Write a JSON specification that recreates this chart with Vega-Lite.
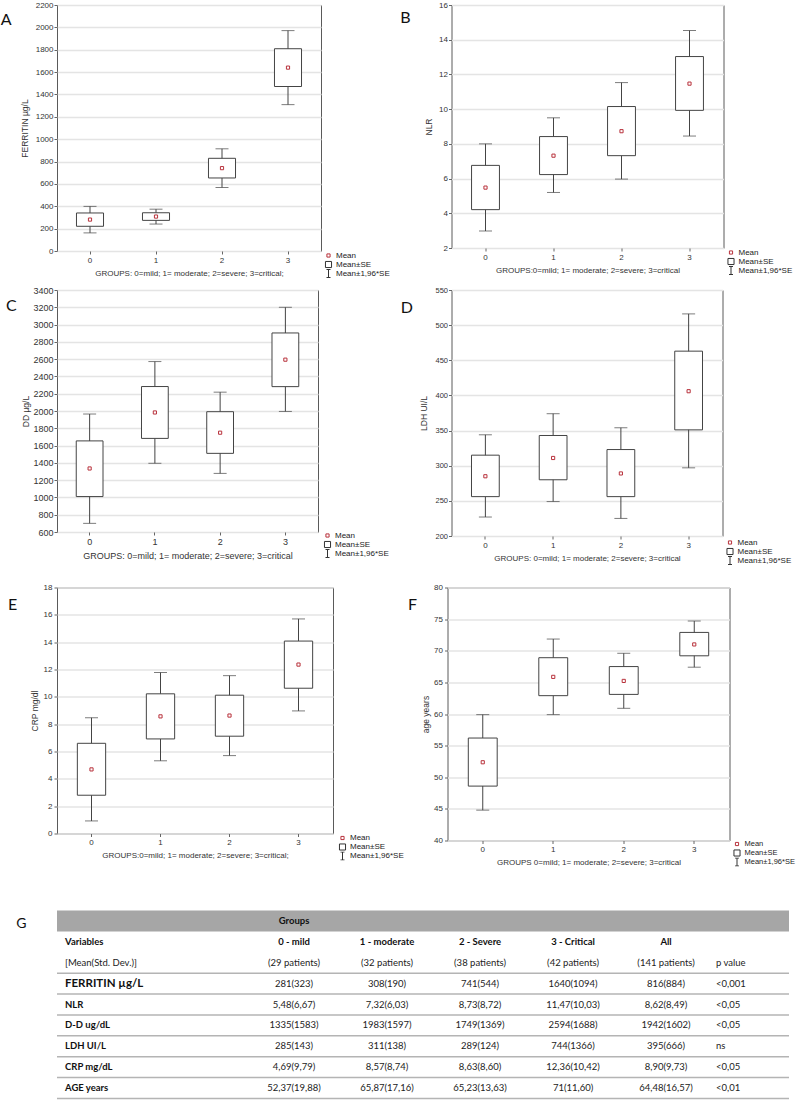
{
"$schema": "https://vega.github.io/schema/vega-lite/v6.json",
"background": "white",
"padding": {"left": 0, "top": 0, "right": 0, "bottom": 0},
"config": {
  "view": {"stroke": "#5a5a5a", "strokeWidth": 1},
  "font": "Liberation Sans",
  "axis": {"labelFont": "Liberation Sans", "labelFontSize": 8, "labelColor": "#333", "titleFont": "Liberation Sans", "titleFontSize": 8.5, "titleFontWeight": "normal", "titleColor": "#333", "tickColor": "#666", "tickSize": 3, "domain": false, "labelPadding": 1},
  "axisX": {"grid": false, "labelAngle": 0, "labelPadding": 2, "titlePadding": 5, "titleFontSize": 8},
  "axisY": {"grid": true, "gridColor": "#e4e4e4", "gridWidth": 1.5},
  "legend": {"labelFont": "Liberation Sans", "labelFontSize": 8, "labelColor": "#222", "rowPadding": 0, "clipHeight": 9, "symbolStrokeWidth": 1, "labelOffset": 3, "padding": 0, "orient": "none"},
  "title": {"font": "Lato", "fontSize": 16, "fontWeight": "normal", "color": "#111", "orient": "left", "anchor": "end", "angle": 0, "align": "right", "baseline": "top", "frame": "group"}
},
"datasets": {
  "ferritin": [
    {"g": "0", "lo": 162, "sel": 221, "mean": 281, "seh": 340, "hi": 399, "stat": "Mean"},
    {"g": "1", "lo": 241, "sel": 274, "mean": 308, "seh": 342, "hi": 374, "stat": "Mean"},
    {"g": "2", "lo": 568, "sel": 653, "mean": 741, "seh": 829, "hi": 914, "stat": "Mean"},
    {"g": "3", "lo": 1309, "sel": 1471, "mean": 1640, "seh": 1809, "hi": 1971, "stat": "Mean"}
  ],
  "nlr": [
    {"g": "0", "lo": 2.98, "sel": 4.21, "mean": 5.48, "seh": 6.76, "hi": 8.0, "stat": "Mean"},
    {"g": "1", "lo": 5.2, "sel": 6.23, "mean": 7.32, "seh": 8.42, "hi": 9.5, "stat": "Mean"},
    {"g": "2", "lo": 5.97, "sel": 7.32, "mean": 8.73, "seh": 10.15, "hi": 11.53, "stat": "Mean"},
    {"g": "3", "lo": 8.45, "sel": 9.93, "mean": 11.47, "seh": 13.03, "hi": 14.53, "stat": "Mean"}
  ],
  "dd": [
    {"g": "0", "lo": 700, "sel": 1010, "mean": 1335, "seh": 1654, "hi": 1965, "stat": "Mean"},
    {"g": "1", "lo": 1395, "sel": 1683, "mean": 1983, "seh": 2283, "hi": 2572, "stat": "Mean"},
    {"g": "2", "lo": 1278, "sel": 1510, "mean": 1749, "seh": 1992, "hi": 2218, "stat": "Mean"},
    {"g": "3", "lo": 1995, "sel": 2282, "mean": 2594, "seh": 2903, "hi": 3200, "stat": "Mean"}
  ],
  "ldh": [
    {"g": "0", "lo": 227, "sel": 256, "mean": 285, "seh": 315, "hi": 344, "stat": "Mean"},
    {"g": "1", "lo": 249, "sel": 280, "mean": 311, "seh": 343, "hi": 374, "stat": "Mean"},
    {"g": "2", "lo": 225, "sel": 256, "mean": 289, "seh": 323, "hi": 354, "stat": "Mean"},
    {"g": "3", "lo": 297, "sel": 351, "mean": 406, "seh": 463, "hi": 516, "stat": "Mean"}
  ],
  "crp": [
    {"g": "0", "lo": 0.92, "sel": 2.8, "mean": 4.69, "seh": 6.6, "hi": 8.47, "stat": "Mean"},
    {"g": "1", "lo": 5.32, "sel": 6.92, "mean": 8.57, "seh": 10.22, "hi": 11.78, "stat": "Mean"},
    {"g": "2", "lo": 5.7, "sel": 7.12, "mean": 8.63, "seh": 10.12, "hi": 11.55, "stat": "Mean"},
    {"g": "3", "lo": 8.97, "sel": 10.63, "mean": 12.36, "seh": 14.08, "hi": 15.7, "stat": "Mean"}
  ],
  "age": [
    {"g": "0", "lo": 44.8, "sel": 48.6, "mean": 52.37, "seh": 56.2, "hi": 59.9, "stat": "Mean"},
    {"g": "1", "lo": 59.9, "sel": 62.9, "mean": 65.87, "seh": 68.9, "hi": 71.85, "stat": "Mean"},
    {"g": "2", "lo": 60.9, "sel": 63.1, "mean": 65.23, "seh": 67.5, "hi": 69.6, "stat": "Mean"},
    {"g": "3", "lo": 67.4, "sel": 69.2, "mean": 71.0, "seh": 72.9, "hi": 74.7, "stat": "Mean"}
  ],
  "tbl": [
    {"row": "hdr", "col": "c0", "text": "Groups"},
    {"row": "h1", "col": "var", "text": "Variables"},
    {"row": "h1", "col": "c0", "text": "0 - mild"},
    {"row": "h1", "col": "c1", "text": "1 - moderate"},
    {"row": "h1", "col": "c2", "text": "2 - Severe"},
    {"row": "h1", "col": "c3", "text": "3 - Critical"},
    {"row": "h1", "col": "all", "text": "All"},
    {"row": "h2", "col": "var", "text": "[Mean(Std. Dev.)]"},
    {"row": "h2", "col": "c0", "text": "(29 patients)"},
    {"row": "h2", "col": "c1", "text": "(32 patients)"},
    {"row": "h2", "col": "c2", "text": "(38 patients)"},
    {"row": "h2", "col": "c3", "text": "(42 patients)"},
    {"row": "h2", "col": "all", "text": "(141 patients)"},
    {"row": "h2", "col": "p", "text": "p value"},
    {"row": "fer", "col": "var", "text": "FERRITIN  µg/L"},
    {"row": "fer", "col": "c0", "text": "281(323)"},
    {"row": "fer", "col": "c1", "text": "308(190)"},
    {"row": "fer", "col": "c2", "text": "741(544)"},
    {"row": "fer", "col": "c3", "text": "1640(1094)"},
    {"row": "fer", "col": "all", "text": "816(884)"},
    {"row": "fer", "col": "p", "text": "<0,001"},
    {"row": "nlr", "col": "var", "text": "NLR"},
    {"row": "nlr", "col": "c0", "text": "5,48(6,67)"},
    {"row": "nlr", "col": "c1", "text": "7,32(6,03)"},
    {"row": "nlr", "col": "c2", "text": "8,73(8,72)"},
    {"row": "nlr", "col": "c3", "text": "11,47(10,03)"},
    {"row": "nlr", "col": "all", "text": "8,62(8,49)"},
    {"row": "nlr", "col": "p", "text": "<0,05"},
    {"row": "dd", "col": "var", "text": "D-D  ug/dL"},
    {"row": "dd", "col": "c0", "text": "1335(1583)"},
    {"row": "dd", "col": "c1", "text": "1983(1597)"},
    {"row": "dd", "col": "c2", "text": "1749(1369)"},
    {"row": "dd", "col": "c3", "text": "2594(1688)"},
    {"row": "dd", "col": "all", "text": "1942(1602)"},
    {"row": "dd", "col": "p", "text": "<0,05"},
    {"row": "ldh", "col": "var", "text": "LDH UI/L"},
    {"row": "ldh", "col": "c0", "text": "285(143)"},
    {"row": "ldh", "col": "c1", "text": "311(138)"},
    {"row": "ldh", "col": "c2", "text": "289(124)"},
    {"row": "ldh", "col": "c3", "text": "744(1366)"},
    {"row": "ldh", "col": "all", "text": "395(666)"},
    {"row": "ldh", "col": "p", "text": "ns"},
    {"row": "crp", "col": "var", "text": "CRP  mg/dL"},
    {"row": "crp", "col": "c0", "text": "4,69(9,79)"},
    {"row": "crp", "col": "c1", "text": "8,57(8,74)"},
    {"row": "crp", "col": "c2", "text": "8,63(8,60)"},
    {"row": "crp", "col": "c3", "text": "12,36(10,42)"},
    {"row": "crp", "col": "all", "text": "8,90(9,73)"},
    {"row": "crp", "col": "p", "text": "<0,05"},
    {"row": "age", "col": "var", "text": "AGE years"},
    {"row": "age", "col": "c0", "text": "52,37(19,88)"},
    {"row": "age", "col": "c1", "text": "65,87(17,16)"},
    {"row": "age", "col": "c2", "text": "65,23(13,63)"},
    {"row": "age", "col": "c3", "text": "71(11,60)"},
    {"row": "age", "col": "all", "text": "64,48(16,57)"},
    {"row": "age", "col": "p", "text": "<0,01"}
  ]
},
"resolve": {"scale": {"color": "independent", "shape": "independent", "size": "independent"}, "legend": {"color": "independent", "shape": "independent", "size": "independent"}},
"spacing": 16.5,
"vconcat": [
 {"spacing": 6,
  "resolve": {"scale": {"color": "independent", "shape": "independent", "size": "independent"}, "legend": {"color": "independent", "shape": "independent", "size": "independent"}},
  "vconcat": [
  {"spacing": 8.5,
   "resolve": {"scale": {"color": "independent", "shape": "independent", "size": "independent"}, "legend": {"color": "independent", "shape": "independent", "size": "independent"}},
   "hconcat": [
   {"width": 264, "height": 246, "data": {"name": "ferritin"},
    "title": {"text": ["", "A"], "lineHeight": 7, "offset": -2},
    "encoding": {"x": {"field": "g", "type": "ordinal", "scale": {"paddingInner": 0, "paddingOuter": 0}, "axis": {"title": "GROUPS: 0=mild; 1= moderate;  2=severe;  3=critical;"}}},
    "layer": [
     {"mark": {"type": "rule", "color": "#444"}, "encoding": {"y": {"field": "lo", "type": "quantitative", "scale": {"domain": [0, 2200], "nice": false, "zero": false}, "axis": {"title": "FERRITIN µg/L", "values": [0,200,400,600,800,1000,1200,1400,1600,1800,2000,2200], "format": "d", "titlePadding": 5.5, "minExtent": 22, "maxExtent": 22}}, "y2": {"field": "hi"}}},
     {"mark": {"type": "bar", "fill": "#ffffff", "stroke": "#444", "strokeWidth": 1, "width": {"band": 0.41}}, "encoding": {"y": {"field": "sel", "type": "quantitative", "scale": {"domain": [0, 2200], "nice": false, "zero": false}, "axis": {"title": "FERRITIN µg/L", "values": [0,200,400,600,800,1000,1200,1400,1600,1800,2000,2200], "format": "d", "titlePadding": 5.5, "minExtent": 22, "maxExtent": 22}}, "y2": {"field": "seh"}}},
     {"mark": {"type": "tick", "size": 13, "thickness": 1, "color": "#444"}, "encoding": {"y": {"field": "lo", "type": "quantitative", "scale": {"domain": [0, 2200], "nice": false, "zero": false}, "axis": {"title": "FERRITIN µg/L", "values": [0,200,400,600,800,1000,1200,1400,1600,1800,2000,2200], "format": "d", "titlePadding": 5.5, "minExtent": 22, "maxExtent": 22}}}},
     {"mark": {"type": "tick", "size": 13, "thickness": 1, "color": "#444"}, "encoding": {"y": {"field": "hi", "type": "quantitative", "scale": {"domain": [0, 2200], "nice": false, "zero": false}, "axis": {"title": "FERRITIN µg/L", "values": [0,200,400,600,800,1000,1200,1400,1600,1800,2000,2200], "format": "d", "titlePadding": 5.5, "minExtent": 22, "maxExtent": 22}}}},
     {"mark": {"type": "point", "filled": false, "strokeWidth": 1, "opacity": 1}, "encoding": {
       "y": {"field": "mean", "type": "quantitative", "scale": {"domain": [0, 2200], "nice": false, "zero": false}, "axis": {"title": "FERRITIN µg/L", "values": [0,200,400,600,800,1000,1200,1400,1600,1800,2000,2200], "format": "d", "titlePadding": 5.5, "minExtent": 22, "maxExtent": 22}},
       "shape": {"field": "stat", "type": "nominal", "scale": {"domain": ["Mean", "Mean±SE", "Mean±1,96*SE"], "range": ["square", "square", "M-0.5,-1H0.5M0,-1V1M-0.5,1H0.5"]}, "legend": {"title": null, "legendX": 267, "legendY": 246}},
       "color": {"field": "stat", "type": "nominal", "scale": {"domain": ["Mean", "Mean±SE", "Mean±1,96*SE"], "range": ["#b8323c", "#333333", "#333333"]}, "legend": {"title": null, "legendX": 267, "legendY": 246}},
       "size": {"field": "stat", "type": "ordinal", "scale": {"domain": ["Mean", "Mean±SE", "Mean±1,96*SE"], "range": [10, 64, 64]}, "legend": {"title": null, "legendX": 267, "legendY": 246}}}}
    ]},
   {"width": 272, "height": 243, "data": {"name": "nlr"},
    "title": {"text": ["", "B"], "lineHeight": 5, "offset": 3.75},
    "encoding": {"x": {"field": "g", "type": "ordinal", "scale": {"paddingInner": 0, "paddingOuter": 0}, "axis": {"title": "GROUPS:0=mild; 1= moderate;  2=severe;  3=critical"}}},
    "layer": [
     {"mark": {"type": "rule", "color": "#444"}, "encoding": {"y": {"field": "lo", "type": "quantitative", "scale": {"domain": [2, 16], "nice": false, "zero": false}, "axis": {"title": "NLR", "values": [2,4,6,8,10,12,14,16], "format": "d", "titlePadding": 4.75, "minExtent": 13, "maxExtent": 13}}, "y2": {"field": "hi"}}},
     {"mark": {"type": "bar", "fill": "#ffffff", "stroke": "#444", "strokeWidth": 1, "width": {"band": 0.41}}, "encoding": {"y": {"field": "sel", "type": "quantitative", "scale": {"domain": [2, 16], "nice": false, "zero": false}, "axis": {"title": "NLR", "values": [2,4,6,8,10,12,14,16], "format": "d", "titlePadding": 4.75, "minExtent": 13, "maxExtent": 13}}, "y2": {"field": "seh"}}},
     {"mark": {"type": "tick", "size": 13, "thickness": 1, "color": "#444"}, "encoding": {"y": {"field": "lo", "type": "quantitative", "scale": {"domain": [2, 16], "nice": false, "zero": false}, "axis": {"title": "NLR", "values": [2,4,6,8,10,12,14,16], "format": "d", "titlePadding": 4.75, "minExtent": 13, "maxExtent": 13}}}},
     {"mark": {"type": "tick", "size": 13, "thickness": 1, "color": "#444"}, "encoding": {"y": {"field": "hi", "type": "quantitative", "scale": {"domain": [2, 16], "nice": false, "zero": false}, "axis": {"title": "NLR", "values": [2,4,6,8,10,12,14,16], "format": "d", "titlePadding": 4.75, "minExtent": 13, "maxExtent": 13}}}},
     {"mark": {"type": "point", "filled": false, "strokeWidth": 1, "opacity": 1}, "encoding": {
       "y": {"field": "mean", "type": "quantitative", "scale": {"domain": [2, 16], "nice": false, "zero": false}, "axis": {"title": "NLR", "values": [2,4,6,8,10,12,14,16], "format": "d", "titlePadding": 4.75, "minExtent": 13, "maxExtent": 13}},
       "shape": {"field": "stat", "type": "nominal", "scale": {"domain": ["Mean", "Mean±SE", "Mean±1,96*SE"], "range": ["square", "square", "M-0.5,-1H0.5M0,-1V1M-0.5,1H0.5"]}, "legend": {"title": null, "legendX": 275, "legendY": 243}},
       "color": {"field": "stat", "type": "nominal", "scale": {"domain": ["Mean", "Mean±SE", "Mean±1,96*SE"], "range": ["#b8323c", "#333333", "#333333"]}, "legend": {"title": null, "legendX": 275, "legendY": 243}},
       "size": {"field": "stat", "type": "ordinal", "scale": {"domain": ["Mean", "Mean±SE", "Mean±1,96*SE"], "range": [10, 64, 64]}, "legend": {"title": null, "legendX": 275, "legendY": 243}}}}
    ]}
  ]},
  {"spacing": 9.5,
   "resolve": {"scale": {"color": "independent", "shape": "independent", "size": "independent"}, "legend": {"color": "independent", "shape": "independent", "size": "independent"}},
   "hconcat": [
   {"width": 261, "height": 242, "data": {"name": "dd"},
    "title": {"text": ["", "C"], "lineHeight": 8, "offset": -6},
    "encoding": {"x": {"field": "g", "type": "ordinal", "scale": {"paddingInner": 0, "paddingOuter": 0}, "axis": {"title": "GROUPS: 0=mild; 1= moderate;  2=severe;  3=critical", "labelFontSize": 9, "titleFontSize": 9}}},
    "layer": [
     {"mark": {"type": "rule", "color": "#444"}, "encoding": {"y": {"field": "lo", "type": "quantitative", "scale": {"domain": [600, 3400], "nice": false, "zero": false}, "axis": {"title": "DD µg/L", "values": [600,800,1000,1200,1400,1600,1800,2000,2200,2400,2600,2800,3000,3200,3400], "format": "d", "titlePadding": 2.5, "labelFontSize": 9, "minExtent": 24, "maxExtent": 24}}, "y2": {"field": "hi"}}},
     {"mark": {"type": "bar", "fill": "#ffffff", "stroke": "#444", "strokeWidth": 1, "width": {"band": 0.41}}, "encoding": {"y": {"field": "sel", "type": "quantitative", "scale": {"domain": [600, 3400], "nice": false, "zero": false}, "axis": {"title": "DD µg/L", "values": [600,800,1000,1200,1400,1600,1800,2000,2200,2400,2600,2800,3000,3200,3400], "format": "d", "titlePadding": 2.5, "labelFontSize": 9, "minExtent": 24, "maxExtent": 24}}, "y2": {"field": "seh"}}},
     {"mark": {"type": "tick", "size": 13, "thickness": 1, "color": "#444"}, "encoding": {"y": {"field": "lo", "type": "quantitative", "scale": {"domain": [600, 3400], "nice": false, "zero": false}, "axis": {"title": "DD µg/L", "values": [600,800,1000,1200,1400,1600,1800,2000,2200,2400,2600,2800,3000,3200,3400], "format": "d", "titlePadding": 2.5, "labelFontSize": 9, "minExtent": 24, "maxExtent": 24}}}},
     {"mark": {"type": "tick", "size": 13, "thickness": 1, "color": "#444"}, "encoding": {"y": {"field": "hi", "type": "quantitative", "scale": {"domain": [600, 3400], "nice": false, "zero": false}, "axis": {"title": "DD µg/L", "values": [600,800,1000,1200,1400,1600,1800,2000,2200,2400,2600,2800,3000,3200,3400], "format": "d", "titlePadding": 2.5, "labelFontSize": 9, "minExtent": 24, "maxExtent": 24}}}},
     {"mark": {"type": "point", "filled": false, "strokeWidth": 1, "opacity": 1}, "encoding": {
       "y": {"field": "mean", "type": "quantitative", "scale": {"domain": [600, 3400], "nice": false, "zero": false}, "axis": {"title": "DD µg/L", "values": [600,800,1000,1200,1400,1600,1800,2000,2200,2400,2600,2800,3000,3200,3400], "format": "d", "titlePadding": 2.5, "labelFontSize": 9, "minExtent": 24, "maxExtent": 24}},
       "shape": {"field": "stat", "type": "nominal", "scale": {"domain": ["Mean", "Mean±SE", "Mean±1,96*SE"], "range": ["square", "square", "M-0.5,-1H0.5M0,-1V1M-0.5,1H0.5"]}, "legend": {"title": null, "legendX": 266, "legendY": 241}},
       "color": {"field": "stat", "type": "nominal", "scale": {"domain": ["Mean", "Mean±SE", "Mean±1,96*SE"], "range": ["#b8323c", "#333333", "#333333"]}, "legend": {"title": null, "legendX": 266, "legendY": 241}},
       "size": {"field": "stat", "type": "ordinal", "scale": {"domain": ["Mean", "Mean±SE", "Mean±1,96*SE"], "range": [10, 64, 64]}, "legend": {"title": null, "legendX": 266, "legendY": 241}}}}
    ]},
   {"width": 271, "height": 246, "data": {"name": "ldh"},
    "title": {"text": ["", "D"], "lineHeight": 10, "offset": -5.5},
    "encoding": {"x": {"field": "g", "type": "ordinal", "scale": {"paddingInner": 0, "paddingOuter": 0}, "axis": {"title": "GROUPS: 0=mild; 1= moderate;  2=severe;  3=critical"}}},
    "layer": [
     {"mark": {"type": "rule", "color": "#444"}, "encoding": {"y": {"field": "lo", "type": "quantitative", "scale": {"domain": [200, 550], "nice": false, "zero": false}, "axis": {"title": "LDH UI/L", "values": [200,250,300,350,400,450,500,550], "format": "d", "titlePadding": 6, "labelFontSize": 7.5, "minExtent": 17, "maxExtent": 17}}, "y2": {"field": "hi"}}},
     {"mark": {"type": "bar", "fill": "#ffffff", "stroke": "#444", "strokeWidth": 1, "width": {"band": 0.41}}, "encoding": {"y": {"field": "sel", "type": "quantitative", "scale": {"domain": [200, 550], "nice": false, "zero": false}, "axis": {"title": "LDH UI/L", "values": [200,250,300,350,400,450,500,550], "format": "d", "titlePadding": 6, "labelFontSize": 7.5, "minExtent": 17, "maxExtent": 17}}, "y2": {"field": "seh"}}},
     {"mark": {"type": "tick", "size": 13, "thickness": 1, "color": "#444"}, "encoding": {"y": {"field": "lo", "type": "quantitative", "scale": {"domain": [200, 550], "nice": false, "zero": false}, "axis": {"title": "LDH UI/L", "values": [200,250,300,350,400,450,500,550], "format": "d", "titlePadding": 6, "labelFontSize": 7.5, "minExtent": 17, "maxExtent": 17}}}},
     {"mark": {"type": "tick", "size": 13, "thickness": 1, "color": "#444"}, "encoding": {"y": {"field": "hi", "type": "quantitative", "scale": {"domain": [200, 550], "nice": false, "zero": false}, "axis": {"title": "LDH UI/L", "values": [200,250,300,350,400,450,500,550], "format": "d", "titlePadding": 6, "labelFontSize": 7.5, "minExtent": 17, "maxExtent": 17}}}},
     {"mark": {"type": "point", "filled": false, "strokeWidth": 1, "opacity": 1}, "encoding": {
       "y": {"field": "mean", "type": "quantitative", "scale": {"domain": [200, 550], "nice": false, "zero": false}, "axis": {"title": "LDH UI/L", "values": [200,250,300,350,400,450,500,550], "format": "d", "titlePadding": 6, "labelFontSize": 7.5, "minExtent": 17, "maxExtent": 17}},
       "shape": {"field": "stat", "type": "nominal", "scale": {"domain": ["Mean", "Mean±SE", "Mean±1,96*SE"], "range": ["square", "square", "M-0.5,-1H0.5M0,-1V1M-0.5,1H0.5"]}, "legend": {"title": null, "legendX": 274, "legendY": 248}},
       "color": {"field": "stat", "type": "nominal", "scale": {"domain": ["Mean", "Mean±SE", "Mean±1,96*SE"], "range": ["#b8323c", "#333333", "#333333"]}, "legend": {"title": null, "legendX": 274, "legendY": 248}},
       "size": {"field": "stat", "type": "ordinal", "scale": {"domain": ["Mean", "Mean±SE", "Mean±1,96*SE"], "range": [10, 64, 64]}, "legend": {"title": null, "legendX": 274, "legendY": 248}}}}
    ]}
  ]}
 ]},
 {"spacing": 43,
  "resolve": {"scale": {"color": "independent", "shape": "independent", "size": "independent"}, "legend": {"color": "independent", "shape": "independent", "size": "independent"}},
  "vconcat": [
  {"spacing": 1.5,
   "resolve": {"scale": {"color": "independent", "shape": "independent", "size": "independent"}, "legend": {"color": "independent", "shape": "independent", "size": "independent"}},
   "hconcat": [
   {"width": 276, "height": 246, "data": {"name": "crp"},
    "title": {"text": ["", "E"], "lineHeight": 9, "offset": 4},
    "encoding": {"x": {"field": "g", "type": "ordinal", "scale": {"paddingInner": 0, "paddingOuter": 0}, "axis": {"title": "GROUPS:0=mild; 1= moderate;  2=severe;  3=critical;"}}},
    "layer": [
     {"mark": {"type": "rule", "color": "#444"}, "encoding": {"y": {"field": "lo", "type": "quantitative", "scale": {"domain": [0, 18], "nice": false, "zero": false}, "axis": {"title": "CRP mg/dl", "values": [0,2,4,6,8,10,12,14,16,18], "format": "d", "titlePadding": 3.5, "labelPadding": 2, "minExtent": 14, "maxExtent": 14}}, "y2": {"field": "hi"}}},
     {"mark": {"type": "bar", "fill": "#ffffff", "stroke": "#444", "strokeWidth": 1, "width": {"band": 0.41}}, "encoding": {"y": {"field": "sel", "type": "quantitative", "scale": {"domain": [0, 18], "nice": false, "zero": false}, "axis": {"title": "CRP mg/dl", "values": [0,2,4,6,8,10,12,14,16,18], "format": "d", "titlePadding": 3.5, "labelPadding": 2, "minExtent": 14, "maxExtent": 14}}, "y2": {"field": "seh"}}},
     {"mark": {"type": "tick", "size": 13, "thickness": 1, "color": "#444"}, "encoding": {"y": {"field": "lo", "type": "quantitative", "scale": {"domain": [0, 18], "nice": false, "zero": false}, "axis": {"title": "CRP mg/dl", "values": [0,2,4,6,8,10,12,14,16,18], "format": "d", "titlePadding": 3.5, "labelPadding": 2, "minExtent": 14, "maxExtent": 14}}}},
     {"mark": {"type": "tick", "size": 13, "thickness": 1, "color": "#444"}, "encoding": {"y": {"field": "hi", "type": "quantitative", "scale": {"domain": [0, 18], "nice": false, "zero": false}, "axis": {"title": "CRP mg/dl", "values": [0,2,4,6,8,10,12,14,16,18], "format": "d", "titlePadding": 3.5, "labelPadding": 2, "minExtent": 14, "maxExtent": 14}}}},
     {"mark": {"type": "point", "filled": false, "strokeWidth": 1, "opacity": 1}, "encoding": {
       "y": {"field": "mean", "type": "quantitative", "scale": {"domain": [0, 18], "nice": false, "zero": false}, "axis": {"title": "CRP mg/dl", "values": [0,2,4,6,8,10,12,14,16,18], "format": "d", "titlePadding": 3.5, "labelPadding": 2, "minExtent": 14, "maxExtent": 14}},
       "shape": {"field": "stat", "type": "nominal", "scale": {"domain": ["Mean", "Mean±SE", "Mean±1,96*SE"], "range": ["square", "square", "M-0.5,-1H0.5M0,-1V1M-0.5,1H0.5"]}, "legend": {"title": null, "legendX": 281, "legendY": 246}},
       "color": {"field": "stat", "type": "nominal", "scale": {"domain": ["Mean", "Mean±SE", "Mean±1,96*SE"], "range": ["#b8323c", "#333333", "#333333"]}, "legend": {"title": null, "legendX": 281, "legendY": 246}},
       "size": {"field": "stat", "type": "ordinal", "scale": {"domain": ["Mean", "Mean±SE", "Mean±1,96*SE"], "range": [10, 64, 64]}, "legend": {"title": null, "legendX": 281, "legendY": 246}}}}
    ]},
   {"width": 282, "height": 253, "data": {"name": "age"},
    "title": {"text": ["", "F"], "lineHeight": 9, "offset": -5},
    "encoding": {"x": {"field": "g", "type": "ordinal", "scale": {"paddingInner": 0, "paddingOuter": 0}, "axis": {"title": "GROUPS 0=mild; 1= moderate;  2=severe; 3=critical"}}},
    "layer": [
     {"mark": {"type": "rule", "color": "#444"}, "encoding": {"y": {"field": "lo", "type": "quantitative", "scale": {"domain": [40, 80], "nice": false, "zero": false}, "axis": {"title": "age years", "values": [40,45,50,55,60,65,70,75,80], "format": "d", "titlePadding": 3.5, "labelPadding": 2, "minExtent": 14, "maxExtent": 14}}, "y2": {"field": "hi"}}},
     {"mark": {"type": "bar", "fill": "#ffffff", "stroke": "#444", "strokeWidth": 1, "width": {"band": 0.41}}, "encoding": {"y": {"field": "sel", "type": "quantitative", "scale": {"domain": [40, 80], "nice": false, "zero": false}, "axis": {"title": "age years", "values": [40,45,50,55,60,65,70,75,80], "format": "d", "titlePadding": 3.5, "labelPadding": 2, "minExtent": 14, "maxExtent": 14}}, "y2": {"field": "seh"}}},
     {"mark": {"type": "tick", "size": 13, "thickness": 1, "color": "#444"}, "encoding": {"y": {"field": "lo", "type": "quantitative", "scale": {"domain": [40, 80], "nice": false, "zero": false}, "axis": {"title": "age years", "values": [40,45,50,55,60,65,70,75,80], "format": "d", "titlePadding": 3.5, "labelPadding": 2, "minExtent": 14, "maxExtent": 14}}}},
     {"mark": {"type": "tick", "size": 13, "thickness": 1, "color": "#444"}, "encoding": {"y": {"field": "hi", "type": "quantitative", "scale": {"domain": [40, 80], "nice": false, "zero": false}, "axis": {"title": "age years", "values": [40,45,50,55,60,65,70,75,80], "format": "d", "titlePadding": 3.5, "labelPadding": 2, "minExtent": 14, "maxExtent": 14}}}},
     {"mark": {"type": "point", "filled": false, "strokeWidth": 1, "opacity": 1}, "encoding": {
       "y": {"field": "mean", "type": "quantitative", "scale": {"domain": [40, 80], "nice": false, "zero": false}, "axis": {"title": "age years", "values": [40,45,50,55,60,65,70,75,80], "format": "d", "titlePadding": 3.5, "labelPadding": 2, "minExtent": 14, "maxExtent": 14}},
       "shape": {"field": "stat", "type": "nominal", "scale": {"domain": ["Mean", "Mean±SE", "Mean±1,96*SE"], "range": ["square", "square", "M-0.5,-1H0.5M0,-1V1M-0.5,1H0.5"]}, "legend": {"title": null, "legendX": 285, "legendY": 252, "labelFontSize": 7.5}},
       "color": {"field": "stat", "type": "nominal", "scale": {"domain": ["Mean", "Mean±SE", "Mean±1,96*SE"], "range": ["#b8323c", "#333333", "#333333"]}, "legend": {"title": null, "legendX": 285, "legendY": 252, "labelFontSize": 7.5}},
       "size": {"field": "stat", "type": "ordinal", "scale": {"domain": ["Mean", "Mean±SE", "Mean±1,96*SE"], "range": [10, 64, 64]}, "legend": {"title": null, "legendX": 285, "legendY": 252, "labelFontSize": 7.5}}}}
    ]}
  ]},
  {"width": 732, "height": 188, "data": {"name": "tbl"},
   "title": {"text": ["", "G"], "lineHeight": 6, "offset": 19.5, "fontSize": 14},
   "view": {"stroke": null},
   "encoding": {"y": {"field": "row", "type": "nominal", "scale": {"domain": ["hdr", "h1", "h2", "fer", "nlr", "dd", "ldh", "crp", "age"], "paddingInner": 0, "paddingOuter": 0}, "axis": null}},
   "layer": [
    {"transform": [{"filter": {"field": "row", "equal": "hdr"}}], "mark": {"type": "rect", "color": "#a6a6a6"}},
    {"transform": [{"filter": {"field": "col", "equal": "var"}}, {"filter": {"not": {"field": "row", "equal": "h1"}}}],
     "mark": {"type": "rule", "color": "#b4b4b4", "strokeWidth": 1.5},
     "encoding": {"y": {"field": "row", "type": "nominal", "bandPosition": 1}}},
    {"transform": [{"filter": {"field": "col", "equal": "var"}}, {"filter": {"field": "row", "oneOf": ["h1", "nlr", "dd", "ldh", "crp", "age"]}}],
     "mark": {"type": "text", "align": "left", "baseline": "middle", "font": "Lato", "fontSize": 9.5, "fontWeight": "bold", "color": "#111"},
     "encoding": {"x": {"field": "col", "type": "nominal", "scale": {"type": "point", "domain": ["var", "p"], "padding": 0.0622, "align": 0.0988}, "axis": null}, "text": {"field": "text"}}},
    {"transform": [{"filter": {"field": "col", "equal": "var"}}, {"filter": {"field": "row", "equal": "fer"}}],
     "mark": {"type": "text", "align": "left", "baseline": "middle", "font": "Lato", "fontSize": 11.5, "fontWeight": "bold", "color": "#111"},
     "encoding": {"x": {"field": "col", "type": "nominal", "scale": {"type": "point", "domain": ["var", "p"], "padding": 0.0622, "align": 0.0988}, "axis": null}, "text": {"field": "text"}}},
    {"transform": [{"filter": {"field": "col", "oneOf": ["var", "p"]}}, {"filter": {"not": {"field": "row", "oneOf": ["h1", "nlr", "dd", "ldh", "crp", "age", "fer"]}}}],
     "mark": {"type": "text", "align": "left", "baseline": "middle", "font": "Lato", "fontSize": 9.5, "color": "#222"},
     "encoding": {"x": {"field": "col", "type": "nominal", "scale": {"type": "point", "domain": ["var", "p"], "padding": 0.0622, "align": 0.0988}, "axis": null}, "text": {"field": "text"}}},
    {"transform": [{"filter": {"field": "col", "equal": "p"}}, {"filter": {"not": {"field": "row", "equal": "h2"}}}],
     "mark": {"type": "text", "align": "left", "baseline": "middle", "font": "Lato", "fontSize": 9.5, "color": "#222"},
     "encoding": {"x": {"field": "col", "type": "nominal", "scale": {"type": "point", "domain": ["var", "p"], "padding": 0.0622, "align": 0.0988}, "axis": null}, "text": {"field": "text"}}},
    {"transform": [{"filter": {"field": "col", "oneOf": ["c0", "c1", "c2", "c3", "all"]}}, {"filter": {"field": "row", "oneOf": ["hdr", "h1"]}}],
     "mark": {"type": "text", "align": "center", "baseline": "middle", "font": "Lato", "fontSize": 9.5, "fontWeight": "bold", "color": "#111"},
     "encoding": {"x": {"field": "col", "type": "nominal", "scale": {"type": "point", "domain": ["var", "c0", "c1", "c2", "c3", "all", "p"], "padding": 0.935, "align": 0.828}, "axis": null}, "text": {"field": "text"}}},
    {"transform": [{"filter": {"field": "col", "oneOf": ["c0", "c1", "c2", "c3", "all"]}}, {"filter": {"not": {"field": "row", "oneOf": ["hdr", "h1"]}}}],
     "mark": {"type": "text", "align": "center", "baseline": "middle", "font": "Lato", "fontSize": 9.5, "color": "#222"},
     "encoding": {"x": {"field": "col", "type": "nominal", "scale": {"type": "point", "domain": ["var", "c0", "c1", "c2", "c3", "all", "p"], "padding": 0.935, "align": 0.828}, "axis": null}, "text": {"field": "text"}}}
   ],
   "resolve": {"scale": {"x": "independent"}}}
 ]}
]
}
